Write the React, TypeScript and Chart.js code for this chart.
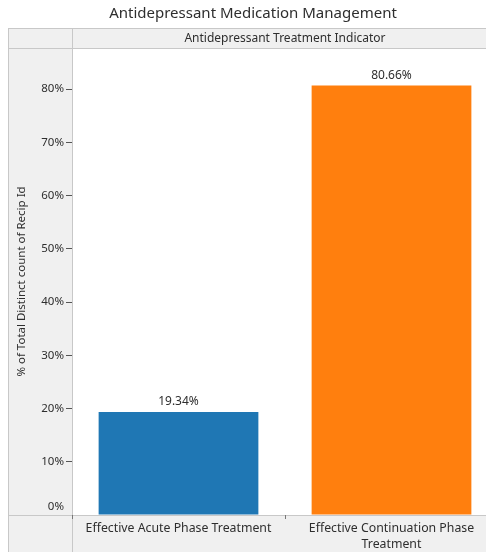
import React, { useEffect, useRef } from "react";
import { Chart, registerables } from "chart.js";

Chart.register(...registerables);

const chartTitle = "Antidepressant Medication Management";
const headerLabel = "Antidepressant Treatment Indicator";
const yAxisTitle = "% of Total Distinct count of Recip Id";
const categories: (string | string[])[] = [
  "Effective Acute Phase Treatment",
  ["Effective Continuation Phase", "Treatment"],
];
const shareValues = [19.34, 80.66];
const barColors = ["#1f77b4", "#ff7f0e"];
const yTickValues = [0, 10, 20, 30, 40, 50, 60, 70, 80];
const yMax = 87.7;

const FONT = "'Noto Sans', 'DejaVu Sans', sans-serif";
const TEXT = "#2e2e2e";
const PANEL = "#f0f0f0";
const RULE = "#c8c8c8";

const CANVAS_W = 498;
const CANVAS_H = 552;
const PANEL_LEFT = 8;
const ROW_LEFT = 72;
const HEADER_TOP = 28;
const PLOT_TOP = 48;
const PLOT_BOTTOM = 515;

const framePlugin = {
  id: "frame",
  beforeDraw(chart: any) {
    const { ctx, width, height } = chart;
    ctx.save();
    ctx.fillStyle = "#ffffff";
    ctx.fillRect(0, 0, width, height);
    ctx.fillStyle = PANEL;
    ctx.fillRect(PANEL_LEFT, HEADER_TOP, width - PANEL_LEFT, PLOT_TOP - HEADER_TOP);
    ctx.fillRect(PANEL_LEFT, PLOT_TOP, ROW_LEFT - PANEL_LEFT, height - PLOT_TOP);
    ctx.fillRect(ROW_LEFT, PLOT_BOTTOM, width - ROW_LEFT, height - PLOT_BOTTOM);

    ctx.strokeStyle = RULE;
    ctx.lineWidth = 1;
    ctx.beginPath();
    [HEADER_TOP, PLOT_TOP, PLOT_BOTTOM].forEach((y) => {
      ctx.moveTo(PANEL_LEFT, y + 0.5);
      ctx.lineTo(width, y + 0.5);
    });
    [PANEL_LEFT, ROW_LEFT].forEach((x) => {
      ctx.moveTo(x + 0.5, HEADER_TOP);
      ctx.lineTo(x + 0.5, height);
    });
    ctx.stroke();

    ctx.fillStyle = TEXT;
    ctx.textAlign = "center";
    ctx.textBaseline = "middle";
    ctx.font = `15px ${FONT}`;
    ctx.fillText(chartTitle, (PANEL_LEFT + width) / 2, 14);
    ctx.font = `12px ${FONT}`;
    ctx.fillText(headerLabel, (ROW_LEFT + width) / 2, 39);
    ctx.restore();
  },
  afterDraw(chart: any) {
    const { ctx } = chart;
    const yScale = chart.scales.y;
    ctx.save();
    ctx.fillStyle = TEXT;
    ctx.font = `11.5px ${FONT}`;
    ctx.textAlign = "right";
    ctx.textBaseline = "middle";
    yTickValues.forEach((v) => {
      let y = yScale.getPixelForValue(v);
      if (v === 0) y -= 8;
      ctx.fillText(`${v}%`, 64, y);
    });

    const meta = chart.getDatasetMeta(0);
    ctx.textAlign = "center";
    ctx.font = `12px ${FONT}`;
    meta.data.forEach((bar: any, i: number) => {
      ctx.fillText(`${shareValues[i].toFixed(2)}%`, bar.x, bar.y - 10);
    });
    ctx.restore();
  },
};

export default function App() {
  const canvasRef = useRef<HTMLCanvasElement | null>(null);

  useEffect(() => {
    if (!canvasRef.current) return;
    const chart = new Chart(canvasRef.current, {
      type: "bar",
      data: {
        labels: categories,
        datasets: [
          {
            data: shareValues,
            backgroundColor: barColors,
            borderWidth: 0,
            barPercentage: 0.75,
            categoryPercentage: 1,
          },
        ],
      },
      options: {
        responsive: false,
        animation: false,
        devicePixelRatio: 1,
        layout: { padding: { top: PLOT_TOP, right: 0, left: 0, bottom: 0 } },
        plugins: {
          legend: { display: false },
          tooltip: { enabled: false },
          title: { display: false },
        },
        scales: {
          x: {
            offset: true,
            border: { display: false },
            grid: {
              offset: true,
              drawOnChartArea: false,
              drawTicks: true,
              tickLength: 4,
              color: "#777777",
            },
            ticks: {
              color: TEXT,
              font: { family: FONT, size: 12.3, lineHeight: 1.25 },
              padding: 2,
              maxRotation: 0,
              autoSkip: false,
            },
            afterFit: (scale: any) => {
              scale.height = CANVAS_H - PLOT_BOTTOM;
            },
          },
          y: {
            min: 0,
            max: yMax,
            border: { display: false },
            grid: {
              drawOnChartArea: false,
              drawTicks: true,
              tickLength: 6,
              tickColor: (ctx: any) =>
                ctx.tick && ctx.tick.value === 0 ? "rgba(0,0,0,0)" : "#555555",
            },
            ticks: { display: false },
            afterBuildTicks: (scale: any) => {
              scale.ticks = yTickValues.map((v) => ({ value: v }));
            },
            title: {
              display: true,
              text: yAxisTitle,
              color: TEXT,
              font: { family: FONT, size: 11.5 },
              padding: { top: 15, bottom: 0 },
            },
            afterFit: (scale: any) => {
              scale.width = ROW_LEFT;
            },
          },
        },
      },
      plugins: [framePlugin],
    });
    return () => chart.destroy();
  }, []);

  return (
    <div
      style={{
        position: "absolute",
        left: 0,
        top: 0,
        width: 486,
        height: 552,
        overflow: "hidden",
        background: "#ffffff",
      }}
    >
      <canvas
        ref={canvasRef}
        width={CANVAS_W}
        height={CANVAS_H}
        style={{ display: "block", width: CANVAS_W, height: CANVAS_H }}
      />
    </div>
  );
}
